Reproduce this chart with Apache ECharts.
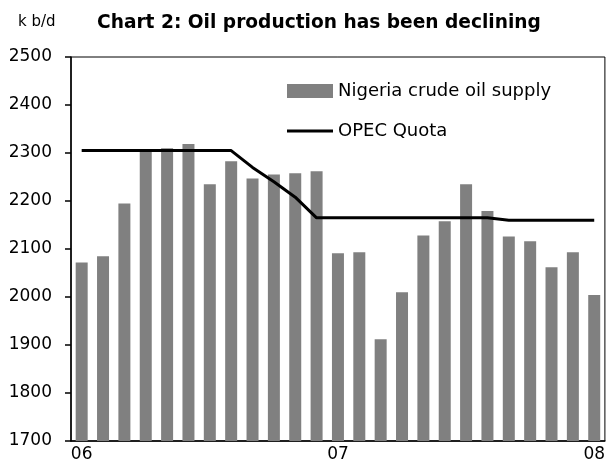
<!DOCTYPE html>
<html>
<head>
<meta charset="utf-8">
<script src="https://cdn.jsdelivr.net/npm/echarts@6/dist/echarts.min.js"></script>
<style>
  html, body { margin: 0; padding: 0; background: #fff; }
  #chart { width: 608px; height: 473px; }
</style>
</head>
<body>
<div id="chart"></div>
<script>
// monthly data, Jan 06 .. Jan 08
var months = ['2006-01','2006-02','2006-03','2006-04','2006-05','2006-06','2006-07','2006-08','2006-09','2006-10','2006-11','2006-12',
  '2007-01','2007-02','2007-03','2007-04','2007-05','2007-06','2007-07','2007-08','2007-09','2007-10','2007-11','2007-12','2008-01'];
var supply = [2072, 2085, 2195, 2302, 2310, 2319, 2235, 2283, 2247, 2255, 2258, 2262,
  2091, 2093, 1912, 2010, 2128, 2158, 2235, 2179, 2126, 2116, 2062, 2093, 2004];
var quota = [2305, 2305, 2305, 2305, 2305, 2305, 2305, 2305, 2270, 2240, 2208, 2165,
  2165, 2165, 2165, 2165, 2165, 2165, 2165, 2165, 2160, 2160, 2160, 2160, 2160];
var yearLabels = ['06', '07', '08'];
var yTicks = [1700, 1800, 1900, 2000, 2100, 2200, 2300, 2400, 2500];

var font = 'DejaVu Sans';

var view = {};
view.loadChart = function () {
  var mychart = echarts.init(document.getElementById('chart'), null, { renderer: 'canvas' });
  var option = {
    animation: false,
    backgroundColor: '#fff',
    title: {
      text: 'Chart 2: Oil production has been declining',
      left: 97,
      top: 14,
      padding: 0,
      textStyle: { fontFamily: font, fontSize: 18.6, fontWeight: 'bold', color: '#000' }
    },
    graphic: [{
      type: 'text',
      left: 18,
      top: 15,
      style: { text: 'k b/d', font: '15px "DejaVu Sans"', fill: '#000' }
    }],
    legend: {
      orient: 'vertical',
      left: 287,
      top: 82,
      padding: 0,
      itemWidth: 46,
      itemHeight: 14,
      itemGap: 22,
      symbolKeepAspect: true,
      textStyle: { fontFamily: font, fontSize: 18, color: '#000', lineHeight: 18 },
      data: [
        { name: 'Nigeria crude oil supply', icon: 'rect' },
        // thin bar as a plain line marker
        { name: 'OPEC Quota', icon: 'path://M0,0 L46,0 L46,3 L0,3 Z' }
      ]
    },
    grid: {
      left: 71,
      right: 1,
      top: 57,
      bottom: 32,
      show: true,
      borderColor: '#000',
      borderWidth: 1,
      backgroundColor: 'transparent'
    },
    xAxis: {
      type: 'category',
      data: months,
      boundaryGap: true,
      axisLine: { lineStyle: { color: '#000', width: 1.5 } },
      axisTick: {
        length: 6,
        lineStyle: { color: '#000', width: 1.5 },
        interval: function (index) { return index % 12 === 0; }
      },
      axisLabel: {
        margin: 5,
        fontFamily: font,
        fontSize: 17,
        color: '#000',
        interval: function (index) { return index % 12 === 0; },
        formatter: function (v, index) { return yearLabels[index / 12]; }
      },
      splitLine: { show: false }
    },
    yAxis: {
      type: 'value',
      min: yTicks[0],
      max: yTicks[yTicks.length - 1],
      interval: 100,
      axisLine: { show: true, lineStyle: { color: '#000', width: 1.5 } },
      axisTick: { show: true, length: 6, lineStyle: { color: '#000', width: 1.5 } },
      axisLabel: {
        margin: 19, fontFamily: font, fontSize: 17, color: '#000',
        formatter: function (v) { return String(v); }
      },
      splitLine: { show: false }
    },
    series: [
      {
        name: 'Nigeria crude oil supply',
        type: 'bar',
        barWidth: 12,
        itemStyle: { color: '#808080' },
        data: supply
      },
      {
        name: 'OPEC Quota',
        type: 'line',
        symbol: 'none',
        lineStyle: { color: '#000', width: 3 },
        itemStyle: { color: '#000' },
        data: quota
      }
    ]
  };
  mychart.setOption(option);
};

view.loadChart();
</script>
</body>
</html>
